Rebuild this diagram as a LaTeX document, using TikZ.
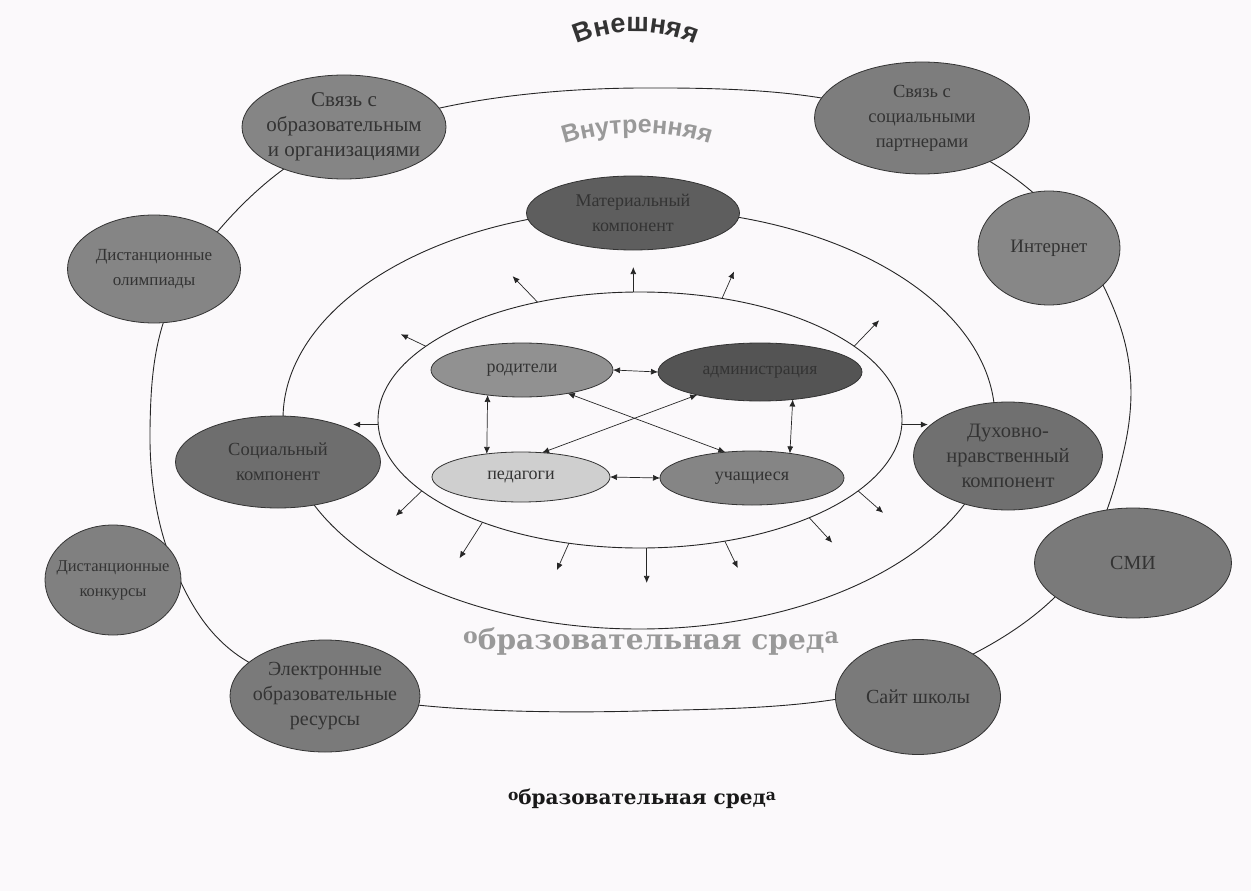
\documentclass[tikz,border=0pt]{standalone}
\usepackage{fontspec}
\setmainfont{Liberation Serif}
\newfontfamily\arcsans{Liberation Sans}
\newfontfamily\wideserif{DejaVu Serif}
\usetikzlibrary{shapes.geometric,arrows.meta,decorations.text,calc}
\definecolor{bgcol}{HTML}{FBF9FB}
\definecolor{txtcol}{HTML}{333333}
\newcommand{\myoval}[7]{%
  \node[oval, fill=#5, minimum width=#3pt, minimum height=#4pt] (#1) at (#2) {};
  \node[ovaltext, font=\fontsize{#7}{25}\selectfont] (#1-t) at (#1.center) {#6};}
\newcommand{\myinner}[7]{%
  \node[oval, fill=#5, minimum width=#3pt, minimum height=#4pt] (#1) at (#2) {};
  \node[intext, font=\fontsize{#7}{21}\selectfont] (#1-t) at (#1.center) {#6};}
\begin{document}
\begin{tikzpicture}[x=1pt,y=-1pt,
  ring/.style={draw=black!85, line width=0.9pt, ellipse, inner sep=0pt, outer sep=0pt},
  ringline/.style={draw=black!85, line width=0.9pt},
  oval/.style={draw=black!80, line width=0.8pt, ellipse, inner sep=0pt, outer sep=0pt},
  ovaltext/.style={align=center, text=txtcol, inner sep=0pt},
  intext/.style={text=txtcol, inner sep=0pt},
  link/.style={{Latex[length=7pt,width=6pt]}-{Latex[length=7pt,width=6pt]}, line width=0.7pt, draw=black!85},
  outarrow/.style={-{Latex[length=7pt,width=6pt]}, line width=0.7pt, draw=black!85},
]
\fill[bgcol] (0,0) rectangle (1251,891);
\useasboundingbox (0,0) rectangle (1251,891);

% outer ring (external environment)
\draw[ringline] plot[smooth cycle, tension=0.6] coordinates {
  (640,88) (860,106) (1030,190) (1118,320) (1124,450) (1055,597) (880,690)
  (640,711) (400,703) (245,660) (172,562) (150,430) (176,292) (288,166) (440,108)};
% middle and inner rings
\node[ring, minimum width=712pt, minimum height=420pt] (middle) at (639,419) {};
\node[ring, minimum width=524pt, minimum height=256pt] (inner) at (640,420) {};

% outer components
\myoval{s1}{344,127}{204}{104}{black!48}{Связь с\\образовательным\\и организациями}{21}
\myoval{s2}{922,118}{215}{112}{black!51}{Связь с\\социальными\\партнерами}{18.5}
\myoval{s3}{1049,248}{142}{114}{black!47}{Интернет}{19}
\myoval{s4}{154,269}{173}{108}{black!48}{Дистанционные\\олимпиады}{17}
\myoval{s5}{278,462}{205}{92}{black!57}{Социальный\\компонент}{18.5}
\myoval{s6}{1008,456}{189}{108}{black!56}{Духовно-\\нравственный\\компонент}{20.5}
\myoval{s7}{113,580}{136}{110}{black!50}{Дистанционные\\конкурсы}{16.5}
\myoval{s8}{1133,563}{197}{110}{black!52}{СМИ}{20}
\myoval{s9}{325,696}{190}{112}{black!52}{Электронные\\образовательные\\ресурсы}{20}
\myoval{s10}{918,697}{165}{115}{black!52}{Сайт школы}{20}
\myoval{mat}{633,213}{213}{74}{black!63}{Материальный\\компонент}{18}

% inner participants
\myinner{rod}{522,370}{182}{54}{black!43}{родители}{18}
\myinner{adm}{760,372}{204}{58}{black!67}{администрация}{17.5}
\myinner{ped}{521,477}{178}{50}{black!19}{педагоги}{18}
\myinner{uch}{752,478}{184}{54}{black!48}{учащиеся}{18}

% links between participants
\draw[link] (rod.east) -- (adm.west);
\draw[link] (rod.-144) -- (ped.146);
\draw[link] (adm.-40) -- (uch.33);
\draw[link] (ped.east) -- (uch.west);
\draw[link] (rod.-27) -- (uch.136);
\draw[link] (adm.200) -- (ped.49);

% outward arrows
\draw[outarrow] (inner.93) -- ++(0,-25);
\draw[outarrow] (inner.131.6) -- ++(-25,-26);
\draw[outarrow] (inner.56.1) -- ++(12,-27);
\draw[outarrow] (inner.161.7) -- ++(-25,-12);
\draw[outarrow] (inner.19.9) -- ++(25,-26);
\draw[outarrow] (inner.181.7) -- ++(-25,0);
\draw[outarrow] (inner.-1.1) -- ++(26,0);
\draw[outarrow] (inner.198.4) -- ++(-26,25);
\draw[outarrow] (inner.213.6) -- ++(-23,36);
\draw[outarrow] (inner.240.1) -- ++(-12,27);
\draw[outarrow] (inner.273.5) -- ++(0,35);
\draw[outarrow] (inner.305.1) -- ++(13,27);
\draw[outarrow] (inner.330.2) -- ++(23,25);
\draw[outarrow] (inner.342.5) -- ++(25,22);

% titles
\path[decorate, decoration={text along path, text align=center,
  text={|\arcsans\bfseries\fontsize{27}{27}\selectfont\color{black!80}|Внешняя}}]
  (555,56) .. controls (603,24) and (669,24) .. (717,56);
\path[decorate, decoration={text along path, text align=center,
  text={|\arcsans\bfseries\fontsize{25}{25}\selectfont\color{black!40}|Внутренняя}}]
  (540,154) .. controls (596,126) and (678,126) .. (734,154);
\node[font=\wideserif\bfseries\fontsize{28}{30}\selectfont, text=black!40, inner sep=0pt] (midtitle) at (651,642)
  {\raisebox{6pt}{\fontsize{22}{22}\selectfont о}бразовательная сред\raisebox{6pt}{\fontsize{22}{22}\selectfont а}};
\node[font=\wideserif\bfseries\fontsize{20}{22}\selectfont, text=black!90, inner sep=0pt] (bottitle) at (642,799)
  {\raisebox{4.5pt}{\fontsize{15.5}{15.5}\selectfont о}бразовательная сред\raisebox{4.5pt}{\fontsize{15.5}{15.5}\selectfont а}};
\end{tikzpicture}
\end{document}
